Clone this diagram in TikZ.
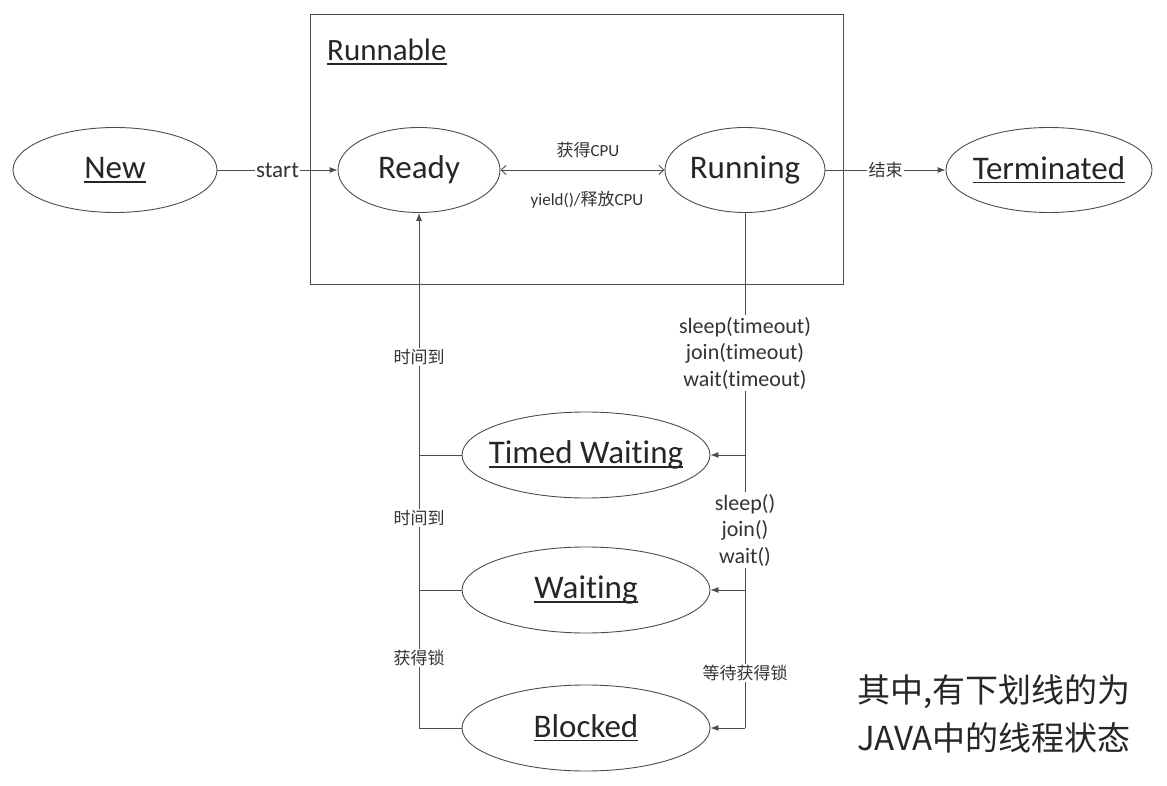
\documentclass[tikz,border=0pt]{standalone}
\usepackage{fontspec}
\setmainfont{Carlito}[Ligatures = NoCommon]
\newfontfamily\cjk{Noto Sans CJK SC}
\usetikzlibrary{shapes.geometric,arrows.meta,positioning}
\newcommand{\ulstate}[1]{\setbox0\hbox{#1}\leavevmode\rlap{\rule[-4pt]{\wd0}{1.8pt}}\box0}
\newcommand{\sname}[1]{\makebox[0pt]{#1}}

\begin{document}
\begin{tikzpicture}[x = 1pt, y = -1pt]
	\tikzstyle{state} = [ellipse, draw = black!70, line width = 0.9pt, inner sep = 0pt, minimum height = 85pt, font = \fontsize{33}{36}\selectfont, text = black!85]
	\tikzstyle{lbl} = [fill = white, inner sep = 1.5pt, font = \fontsize{17}{20}\selectfont, text = black!80]
	\tikzstyle{call} = [fill = white, inner sep = 1.5pt, align = center, font = \fontsize{22}{26.5}\selectfont, text = black!80]
	\tikzstyle{line} = [draw = black!70, line width = 0.9pt]
	\tikzstyle{arr} = [line, -{Latex[length = 8pt, width = 6pt]}]
	\useasboundingbox (0, 0) rectangle (1167, 786);

\node[draw = black!70, line width = 0.9pt, minimum width = 533pt, minimum height = 270pt, inner sep = 0pt] (runnable) at (576.5, 149) {};
\node[anchor = west, inner sep = 0pt, font = \fontsize{31}{34}\selectfont, text = black!85] (runnabletitle) at (327, 52) {\ulstate{Runnable}};

\node[state, minimum width = 204pt] (new) at (115, 170) {\sname{\ulstate{New}}};
\node[state, minimum width = 162pt] (ready) at (419, 170) {\sname{Ready}};
\node[state, minimum width = 160pt] (running) at (745, 170) {\sname{Running}};
\node[state, minimum width = 206pt] (terminated) at (1049, 170) {\sname{\ulstate{Terminated}}};
\node[state, minimum width = 248pt, minimum height = 86pt] (timed) at (586, 455) {\sname{\ulstate{Timed Waiting}}};
\node[state, minimum width = 248pt, minimum height = 86pt] (waiting) at (586, 590) {\sname{\ulstate{Waiting}}};
\node[state, minimum width = 248pt, minimum height = 86pt] (blocked) at (586, 728) {\sname{\ulstate{Blocked}}};

	% top row
	\path[arr] (new) -- node[lbl, font = \fontsize{23}{26}\selectfont] (startlbl) {start} (ready);
	\path[line, {Straight Barb[length = 5pt, width = 9pt]}-{Straight Barb[length = 5pt, width = 9pt]}] (ready) -- (running);
	\path[arr] (running) -- node[lbl] (endlbl) {\cjk 结束} (terminated);
\node[lbl, fill = none] (getcpu) at (588, 150) {{\cjk 获得}CPU};
\node[lbl, fill = none] (yieldcpu) at (587, 200) {yield()/{\cjk 释放}CPU};

	% right side
\coordinate (r1) at (running.south |- timed.east);
\coordinate (r2) at (running.south |- waiting.east);
\coordinate (r3) at (running.south |- blocked.east);
	\path[line] (running.south) -- (r3);
	\path[arr] (r1) -- (timed.east);
	\path[arr] (r2) -- (waiting.east);
	\path[arr] (r3) -- (blocked.east);
\node[call] (timeoutlbl) at (745, 353) {sleep(timeout)\\join(timeout)\\wait(timeout)};
\node[call] (waitlbl) at (745, 530) {sleep()\\join()\\wait()};
\node[lbl] (locklbl) at (745, 673) {\cjk 等待获得锁};

	% left side
\coordinate (l1) at (ready.south |- timed.west);
\coordinate (l2) at (ready.south |- waiting.west);
\coordinate (l3) at (ready.south |- blocked.west);
	\path[arr] (l3) -- (ready.south);
	\path[line] (timed.west) -- (l1);
	\path[line] (waiting.west) -- (l2);
	\path[line] (blocked.west) -- (l3);
\node[lbl] (timeup1) at (419, 357) {\cjk 时间到};
\node[lbl] (timeup2) at (419, 518) {\cjk 时间到};
\node[lbl] (gotlock) at (419, 658) {\cjk 获得锁};

\node[align = left, inner sep = 0pt, font = \cjk\fontsize{33}{48}\selectfont, text = black!85] (note) at (994, 714) {其中,有下划线的为\\JAVA中的线程状态};
\end{tikzpicture}
\end{document}
